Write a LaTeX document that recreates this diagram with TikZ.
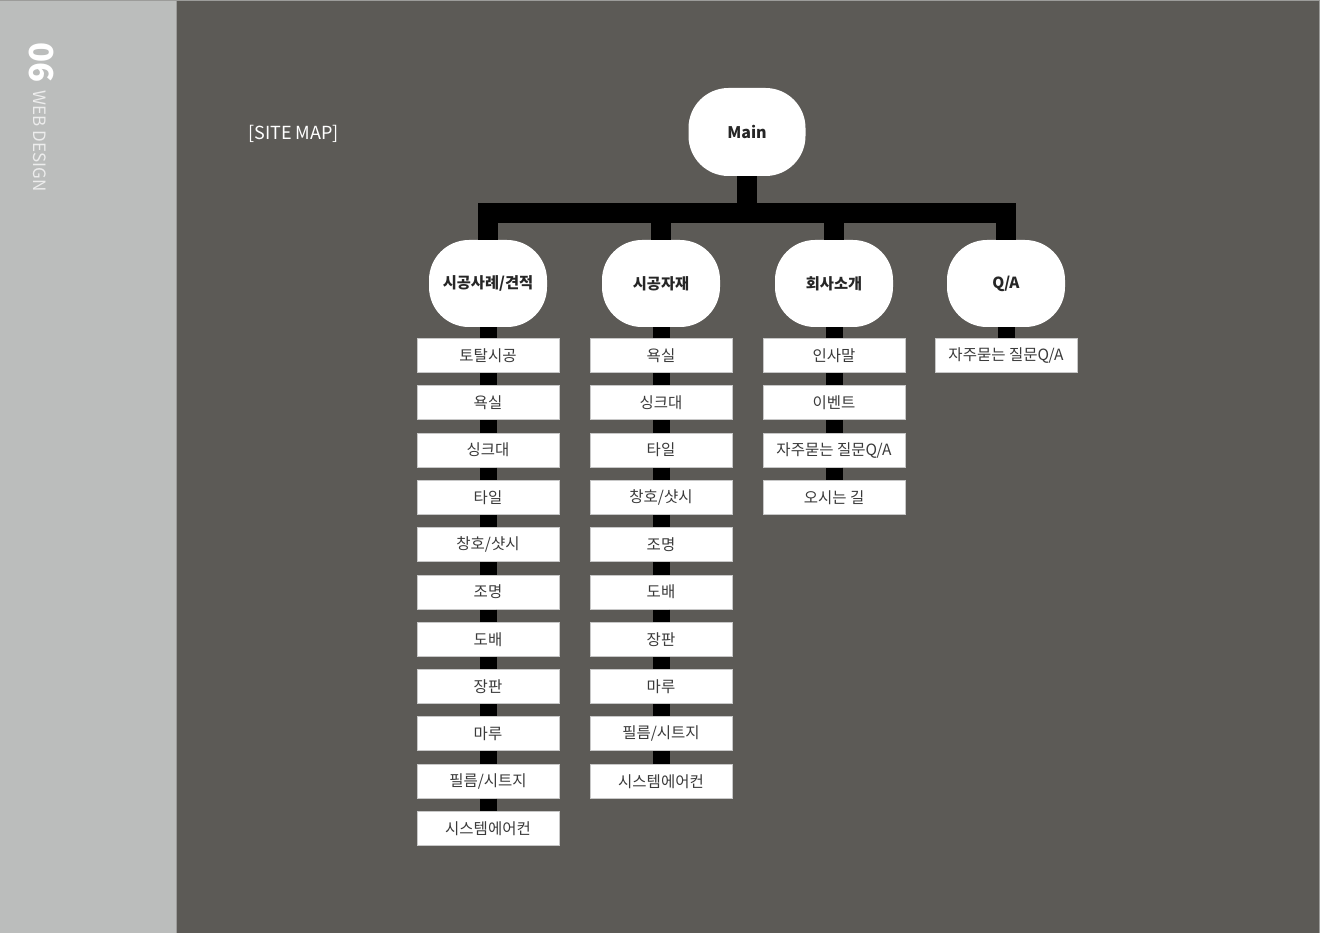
\documentclass[tikz,border=0pt]{standalone}
\usepackage{fontspec}
\setmainfont{Noto Sans CJK KR}
\definecolor{sidebg}{HTML}{BBBDBC}
\definecolor{mainbg}{HTML}{5C5A56}
\definecolor{framec}{HTML}{9C9C9A}
\definecolor{boxline}{HTML}{C8C8C8}
\definecolor{boxtext}{HTML}{3A3A3A}
\definecolor{sidetext}{HTML}{EDEDED}
\tikzset{
  rootnode/.style={fill=white, rounded corners=40pt, minimum width=117pt, minimum height=88pt, inner sep=0pt, font=\fontsize{16}{18}\selectfont\bfseries, text=black!85},
  secnode/.style={fill=white, rounded corners=40pt, minimum width=118pt, minimum height=87pt, inner sep=0pt, font=\fontsize{15.3}{18}\selectfont\bfseries, text=black!85},
  itembox/.style={fill=white, draw=boxline, line width=1pt, minimum width=142pt, minimum height=34pt, inner sep=0pt, font=\fontsize{15.5}{17}\selectfont, text=boxtext},
  trunk/.style={draw=black, line width=20pt, line join=miter},
  chain/.style={draw=black, line width=17pt},
}
\begin{document}
\begin{tikzpicture}[x=1pt,y=-1pt]
\useasboundingbox (0,0) rectangle (1320,933);
% backgrounds
\fill[mainbg] (0,0) rectangle (1320,933);
\fill[sidebg] (0,0) rectangle (176,933);
\draw[framec, line width=1.5pt] (176.5,0) -- (176.5,933);
\draw[framec, line width=2pt] (0,0) -- (1320,0);
\draw[framec, line width=2pt] (1320,0) -- (1320,933);
% sidebar texts
\node[rotate=-90, text=white, font=\fontsize{33}{36}\selectfont\bfseries, inner sep=0pt] (num) at (41,62.5) {06};
\node[rotate=-90, text=sidetext, font=\fontsize{17}{19}\selectfont, inner sep=0pt] (sect) at (40,141) {WEB DESIGN};
% title
\node[text=white, font=\fontsize{18}{20}\selectfont, inner sep=0pt, anchor=west] (title) at (248,134) {[SITE MAP]};
% root
\node[rootnode] (root) at (747,132) {Main};
% level 1
\node[secnode] (l1) at (488,283.5) {시공사례/견적};
\node[secnode] (l2) at (661,283.5) {시공자재};
\node[secnode] (l3) at (834,283.5) {회사소개};
\node[secnode] (l4) at (1006,283.5) {Q/A};
\foreach \c in {l1,l2,l3,l4}{
  \draw[trunk] (root.south) -- ++(0,36.5) -| (\c.north);
}
% items
\foreach \t [count=\i] in {토탈시공,욕실,싱크대,타일,창호/샷시,조명,도배,장판,마루,필름/시트지,시스템에어컨}{
  \node[itembox] (a\i) at (488,{355.5+47.3*(\i-1)}) {\t};
}
\foreach \t [count=\i] in {욕실,싱크대,타일,창호/샷시,조명,도배,장판,마루,필름/시트지,시스템에어컨}{
  \node[itembox] (b\i) at (661,{355.5+47.3*(\i-1)}) {\t};
}
\foreach \t [count=\i] in {인사말,이벤트,자주묻는 질문Q/A,오시는 길}{
  \node[itembox] (c\i) at (834,{355.5+47.3*(\i-1)}) {\t};
}
\node[itembox] (d1) at (1006,355.5) {자주묻는 질문Q/A};
% chains
\draw[chain] (l1.south) -- (a1.north);
\draw[chain] (l2.south) -- (b1.north);
\draw[chain] (l3.south) -- (c1.north);
\draw[chain] (l4.south) -- (d1.north);
\foreach \i in {2,...,11}{
  \pgfmathtruncatemacro{\p}{\i-1}
  \draw[chain] (a\p.south) -- (a\i.north);
}
\foreach \i in {2,...,10}{
  \pgfmathtruncatemacro{\p}{\i-1}
  \draw[chain] (b\p.south) -- (b\i.north);
}
\foreach \i in {2,...,4}{
  \pgfmathtruncatemacro{\p}{\i-1}
  \draw[chain] (c\p.south) -- (c\i.north);
}
\end{tikzpicture}
\end{document}
